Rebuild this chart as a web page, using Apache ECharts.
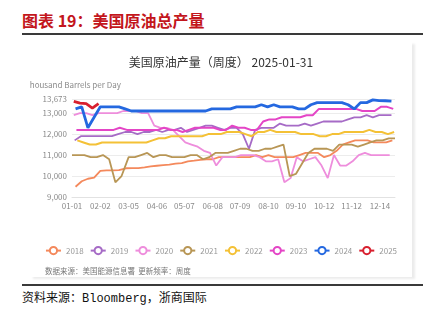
<!DOCTYPE html>
<html>
<head>
<meta charset="utf-8">
<script src="https://cdn.jsdelivr.net/npm/echarts@6/dist/echarts.min.js"></script>
<style>
  html, body { margin: 0; padding: 0; background: #fff; width: 439px; height: 322px; overflow: hidden; font-family: "Noto Sans CJK SC", sans-serif; }
  #hd { position: absolute; left: 22px; top: 9px; font-size: 16px; font-weight: bold; color: #c3161c; line-height: 22px; white-space: nowrap; }
  .rule { position: absolute; left: 22px; width: 401px; height: 1.5px; background: #3a3a3a; }
  #card { position: absolute; left: 30px; top: 42px; width: 382px; height: 235px; background: #fff; box-shadow: 3px 2px 2px rgba(0,0,0,0.08); }
  #chart { position: absolute; left: 0; top: 0; width: 382px; height: 235px; }
  #ft { position: absolute; left: 22px; top: 290px; font-size: 12px; line-height: 18px; color: #111; font-family: "Liberation Mono", "Noto Sans CJK SC", monospace; white-space: nowrap; }
</style>
</head>
<body>
<div id="hd">图表 19：美国原油总产量</div>
<div class="rule" style="top:33px"></div>
<div id="card"><div id="chart"></div></div>
<div class="rule" style="top:284px"></div>
<div id="ft">资料来源：Bloomberg，浙商国际</div>
<script>
// Weekly US crude oil field production, thousand barrels per day
const seriesYears = ['2018', '2019', '2020', '2021', '2022', '2023', '2024', '2025'];
const firstReport = ['2018-01-05', '2019-01-04', '2020-01-03', '2021-01-01', '2022-01-07', '2023-01-06', '2024-01-05', '2025-01-03'];

const prod2018 = [9490, 9750, 9870, 9920, 10250, 10270, 10270, 10280, 10370, 10380,
  10380, 10410, 10460, 10490, 10520, 10540, 10590, 10620, 10700, 10730,
  10770, 10800, 10800, 10900, 10900, 10900, 10900, 10900, 10900, 11000,
  10900, 11000, 10900, 10900, 10900, 10900, 11000, 11100, 11100, 11100,
  10900, 11000, 11200, 11500, 11600, 11700, 11700, 11700, 11600, 11600,
  11600, 11700];
const prod2019 = [11700, 11900, 11900, 11900, 11900, 11900, 11900, 12000, 12100, 12100,
  12000, 12100, 12100, 12200, 12100, 12200, 12200, 12300, 12100, 12200,
  12300, 12400, 12400, 12300, 12200, 12300, 12300, 12000, 11300, 12200,
  12300, 12300, 12300, 12500, 12400, 12400, 12400, 12500, 12400, 12500,
  12600, 12600, 12600, 12600, 12700, 12800, 12800, 12900, 12800, 12900,
  12900, 12900];
const prod2020 = [12900, 13000, 13000, 12900, 13000, 13000, 13000, 13000, 13100, 13100,
  13100, 13000, 13000, 12400, 12300, 12300, 12200, 11900, 11600, 11500,
  11400, 11200, 11100, 10500, 10900, 10900, 10900, 11000, 11000, 11000,
  10900, 10700, 10700, 10800, 9700, 9900, 10900, 10700, 10800, 10900,
  10500, 9900, 11000, 10500, 10500, 10700, 11000, 11100, 11000, 11000,
  11000, 11000];
const prod2021 = [11000, 11000, 11000, 10900, 10900, 11000, 10800, 9700, 10000, 10900,
  10900, 11000, 11100, 10900, 11000, 11000, 10900, 10900, 10900, 11000,
  11000, 10800, 10900, 11100, 11100, 11100, 11200, 11300, 11300, 11200,
  11200, 11300, 11300, 11400, 11500, 10000, 10100, 10600, 11100, 11300,
  11300, 11300, 11200, 11500, 11500, 11500, 11400, 11500, 11600, 11700,
  11700, 11800, 11800];
const prod2022 = [11700, 11600, 11500, 11500, 11600, 11600, 11600, 11600, 11600, 11600,
  11600, 11600, 11700, 11800, 11800, 11900, 11900, 11900, 11900, 11900,
  11900, 12000, 12000, 12000, 12100, 12100, 12100, 12000, 11900, 12100,
  12100, 12200, 12100, 12100, 12100, 12100, 12000, 12000, 12000, 11900,
  11900, 12000, 12000, 12100, 12100, 12100, 12100, 12200, 12100, 12100,
  12000, 12100];
const prod2023 = [12200, 12200, 12200, 12200, 12200, 12200, 12200, 12300, 12200, 12200,
  12200, 12200, 12200, 12200, 12300, 12200, 12200, 12100, 12200, 12300,
  12300, 12300, 12300, 12200, 12200, 12400, 12300, 12300, 12200, 12200,
  12600, 12700, 12700, 12800, 12800, 12800, 12800, 12900, 12900, 13200,
  13200, 13200, 13200, 13200, 13200, 13200, 13100, 13100, 13100, 13300,
  13300, 13200];
const prod2024 = [13200, 13300, 12300, 12800, 13300, 13300, 13300, 13300, 13200, 13100,
  13100, 13100, 13100, 13100, 13100, 13100, 13100, 13100, 13100, 13100,
  13100, 13100, 13200, 13200, 13200, 13200, 13300, 13300, 13300, 13300,
  13400, 13300, 13400, 13300, 13300, 13300, 13200, 13200, 13400, 13500,
  13500, 13500, 13500, 13500, 13400, 13200, 13500, 13500, 13630, 13600,
  13590, 13570];
const prod2025 = [13560, 13480, 13450, 13240, 13450];

const productionByYear = [prod2018, prod2019, prod2020, prod2021, prod2022, prod2023, prod2024, prod2025];

// Calendar-day labels that appear under the axis
const tickLabels = ['01-01', '02-02', '03-05', '04-06', '05-07', '06-08', '07-09', '08-10', '09-10', '10-12', '11-12', '12-14'];
// y-axis bounds (thousand b/d)
const yMin = 9000;
const yMax = 13673;
const yStep = 1000;

const lineColors = ['#f4895c', '#a66bc6', '#ee8ddc', '#b89655', '#f4c136', '#e445c6', '#2468e0', '#d8202f'];
const lineWidths = [1.8, 1.8, 1.8, 1.8, 2, 2, 2.8, 2.8];

const pad = n => (n < 10 ? '0' : '') + n;

// One category per calendar day (leap-year calendar so every MM-DD exists)
const monthLengths = [31, 29, 31, 30, 31, 30, 31, 31, 30, 31, 30, 31];
const dayCategories = [];
monthLengths.forEach((len, m) => {
  for (let d = 1; d <= len; d++) dayCategories.push(pad(m + 1) + '-' + pad(d));
});

// Place each weekly report on its MM-DD category
function weeklyPoints(start, values) {
  const [y, m, d] = start.split('-').map(Number);
  return values.map((v, i) => {
    const dt = new Date(Date.UTC(y, m - 1, d + 7 * i));
    const key = pad(dt.getUTCMonth() + 1) + '-' + pad(dt.getUTCDate());
    return [dayCategories.indexOf(key), v];
  });
}

const FONT = '"Noto Sans CJK SC", "Noto Sans", sans-serif';

const chart = echarts.init(document.getElementById('chart'), null, { renderer: 'canvas' });
chart.setOption({
  animation: false,
  textStyle: { fontFamily: FONT },
  title: [
    {
      text: '美国原油产量（周度） 2025-01-31',
      left: 'center', top: 9,
      textStyle: { fontSize: 12, fontWeight: 'normal', color: '#333', fontFamily: FONT }
    },
    {
      text: '数据来源：美国能源信息署  更新频率：周度',
      left: 10, top: 220,
      textStyle: { fontSize: 7.5, fontWeight: 'normal', color: '#777', fontFamily: FONT }
    }
  ],
  graphic: [
    {
      type: 'text', x: -5, y: 43,
      style: { text: 'Thousand Barrels per Day', fill: '#8a8a8a', fontSize: 8, fontFamily: FONT, verticalAlign: 'middle' }
    }
  ],
  legend: {
    data: seriesYears,
    left: 'center', top: 199,
    itemWidth: 15, itemHeight: 9, itemGap: 6,
    textStyle: { fontSize: 8, color: '#999', fontFamily: FONT }
  },
  grid: { left: 42, right: 17, top: 57, bottom: 80 },
  xAxis: {
    type: 'category',
    data: dayCategories,
    boundaryGap: false,
    axisLine: { lineStyle: { color: '#e2e2e2' } },
    axisTick: { show: false },
    axisLabel: {
      interval: (idx, val) => tickLabels.includes(val),
      color: '#8a8a8a', fontSize: 8, margin: 5, fontFamily: FONT
    },
    splitLine: { show: false }
  },
  yAxis: {
    type: 'value',
    min: yMin, max: yMax, interval: yStep,
    axisLine: { show: false },
    axisTick: { show: false },
    axisLabel: {
      color: '#8a8a8a', fontSize: 8, margin: 5, fontFamily: FONT,
      formatter: v => Number(v).toLocaleString('en-US')
    },
    splitLine: { lineStyle: { color: '#ececec', width: 1 } }
  },
  series: seriesYears.map((yr, k) => ({
    name: yr,
    type: 'line',
    data: weeklyPoints(firstReport[k], productionByYear[k]),
    symbol: 'emptyCircle',
    showSymbol: false,
    color: lineColors[k],
    lineStyle: { width: lineWidths[k], color: lineColors[k] },
    z: 2 + k
  }))
});
</script>
</body>
</html>
